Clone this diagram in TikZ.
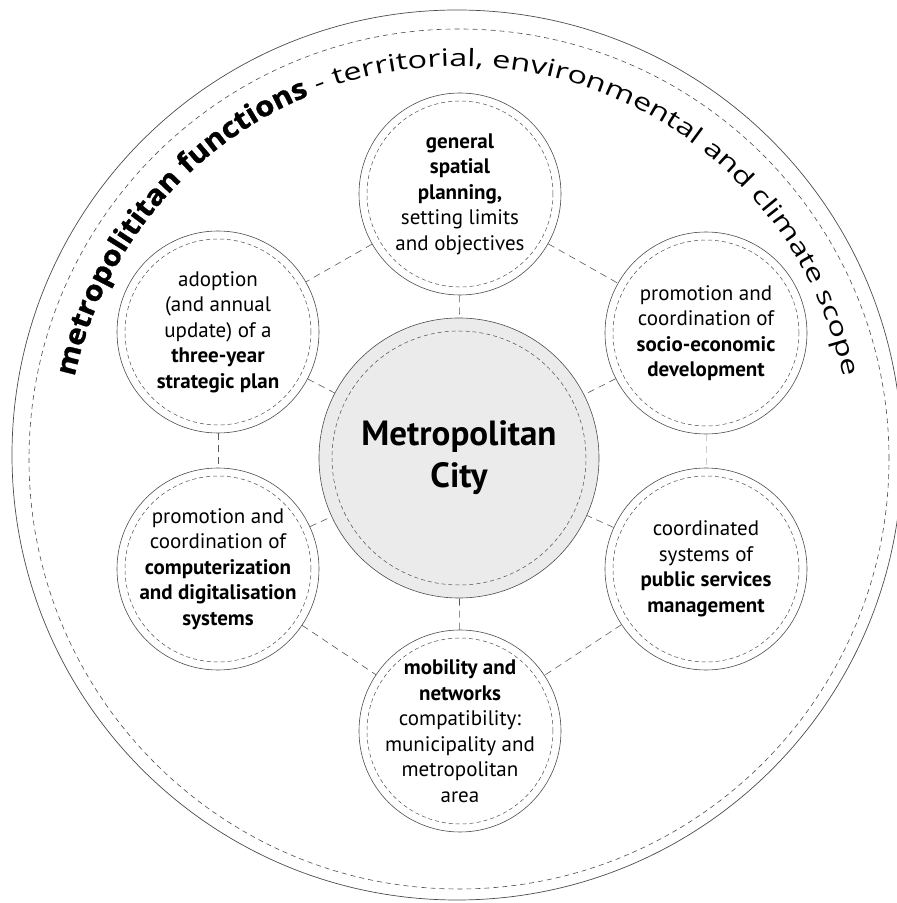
\documentclass[tikz,border=0pt]{standalone}
\usepackage{fontspec}
\setmainfont{PT Sans}
\newfontfamily\arcfontb[FakeStretch=1.1,BoldFeatures={FakeBold=1.2}]{Open Sans}
\newfontfamily\arcfont[FakeStretch=1.35]{Open Sans}
\usetikzlibrary{decorations.text}
\tikzset{sat/.style={circle,draw=black!70,fill=white,line width=0.6pt,minimum size=202pt,inner sep=0pt},
  satdash/.style={draw=black!70,dash pattern=on 4pt off 3pt,line width=0.5pt},
  link/.style={draw=black!65,dash pattern=on 7pt off 5pt,line width=0.6pt},
  txt/.style={align=center,font=\fontsize{21}{25.5}\selectfont}}
\newcommand\arcbold{\arcfontb\bfseries\fontsize{28}{30}\selectfont}
\newcommand\arcreg{\arcfont\fontsize{24}{30}\selectfont}

\begin{document}
\begin{tikzpicture}[x=1pt,y=1pt,line join=round]
\useasboundingbox (0,0) rectangle (897,903);
% --- outer ring: scope of the functions
\draw[black!70,line width=0.7pt] (457,448) circle[radius=445pt];
\draw[black!70,dash pattern=on 5pt off 4pt,line width=0.6pt] (459,444) circle[radius=430pt];
\path[decorate,decoration={text along path,text align=center,
  text={|\arcbold|metropolititan functions|\arcreg| - territorial, environmental and climate scope}}]
  (459,444) ++(180:393pt) arc[start angle=180,end angle=0,radius=393pt];
% --- central node
\node[sat,fill=black!8,minimum size=280pt] (mc) at (459,445) {};
\draw[satdash] (mc.center) circle[radius=127pt];
\node[align=center,font=\bfseries\fontsize{35}{42}\selectfont] (mc-t) at (mc) {Metropolitan\\City};
% --- six functions
\node[sat] (top) at (460,709) {};
\node[sat] (ul) at (218,571) {};
\node[sat] (ur) at (706,570) {};
\node[sat] (ll) at (218,334) {};
\node[sat] (lr) at (706,334) {};
\node[sat] (bot) at (460,172) {};
\foreach \n in {top,ul,ur,ll,lr,bot} \draw[satdash] (\n.center) circle[radius=93pt];
\foreach \a/\b in {top/ul,top/ur,ul/ll,ll/bot,lr/bot} \draw[link] (\a) -- (\b);
\draw[link,draw=black!20] (ur) -- (lr);
\foreach \n in {top,ul,ur,ll,lr,bot} \draw[link] (\n) -- (mc);
\node[txt] (top-t) at (top) {\textbf{general}\\\textbf{spatial}\\\textbf{planning,}\\setting limits\\and objectives};
\node[txt] (ul-t) at (ul) {adoption\\(and annual\\update) of a\\\textbf{three-year}\\\textbf{strategic plan}};
\node[txt] (ur-t) at (ur) {promotion and\\coordination of\\\textbf{socio-economic}\\\textbf{development}};
\node[txt] (ll-t) at (ll) {promotion and\\coordination of\\\textbf{computerization}\\\textbf{and digitalisation}\\\textbf{systems}};
\node[txt] (lr-t) at (lr) {coordinated\\systems of\\\textbf{public services}\\\textbf{management}};
\node[txt] (bot-t) at (bot) {\textbf{mobility and}\\\textbf{networks}\\compatibility:\\municipality and\\metropolitan\\area};
\end{tikzpicture}
\end{document}
